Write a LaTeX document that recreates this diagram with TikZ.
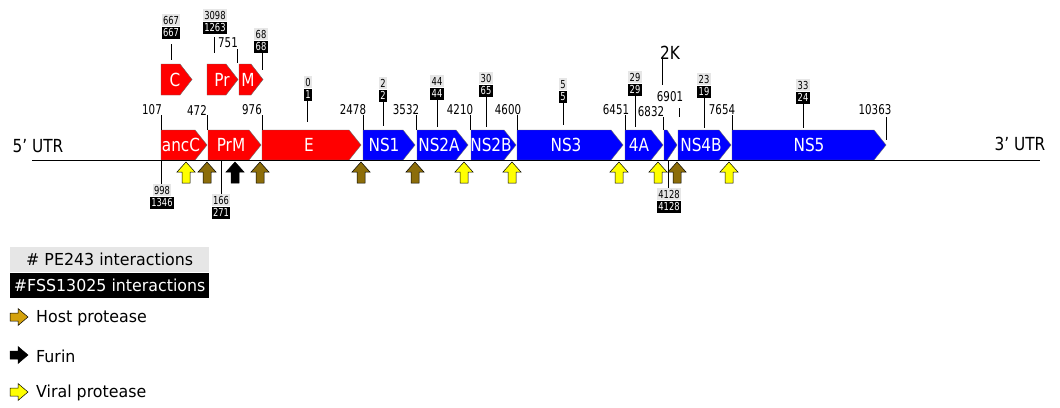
\documentclass[tikz,border=0pt]{standalone}
\usepackage{fontspec}
\setmainfont{DejaVu Sans}[FakeStretch=0.85]
\newfontfamily\keyfam{DejaVu Sans}[FakeStretch=0.96]
\newfontfamily\numfam{DejaVu Sans}[FakeStretch=0.76]
\newcommand\bigfont{\fontsize{18}{20}\selectfont}
\newcommand\posfont{\numfam\fontsize{13.5}{14}\selectfont}
\newcommand\cntfont{\numfam\fontsize{11}{12}\selectfont}
\newcommand\legfont{\keyfam\fontsize{16.5}{18}\selectfont}
\definecolor{segred}{HTML}{FF0000}
\definecolor{segblue}{HTML}{0000FF}
\definecolor{hostbrown}{HTML}{8C6D0A}
\definecolor{hostgold}{HTML}{D4A20C}
\definecolor{viralyellow}{HTML}{FFFF00}
\definecolor{labgray}{HTML}{E6E6E6}
\tikzset{
  segbox/.style={draw=black!60, line width=0.4pt},
  seglabel/.style={text=white, font=\bigfont, inner sep=0pt},
  graylab/.style={fill=labgray, text=black, font=\cntfont, inner xsep=1.5pt, inner ysep=0pt, minimum height=12pt},
  blacklab/.style={fill=black, text=white, font=\cntfont, inner xsep=1.5pt, inner ysep=0pt, minimum height=12.5pt},
  poslab/.style={font=\posfont, inner sep=0pt},
  tick/.style={draw=black, line width=0.8pt},
  cleave/.pic={\path[pic actions, draw=black, line width=0.5pt]
    (0,0) -- (9,10) -- (4,10) -- (4,21) -- (-4,21) -- (-4,10) -- (-9,10) -- cycle;},
  keyarrow/.pic={\path[pic actions, draw=black, line width=0.5pt]
    (0,-4) -- (8,-4) -- (8,-8.5) -- (18,0) -- (8,8.5) -- (8,4) -- (0,4) -- cycle;},
}
% polyprotein segment: name, left x, tip x, top y, bottom y, colour, text, text x
\newcommand\seg[8]{%
  \path[segbox, fill=#6] (#2,#4) -- ({#3-12},#4) -- (#3,{(#4+#5)/2}) -- ({#3-12},#5) -- (#2,#5) -- cycle;
  \node[seglabel] (#1) at (#8,{(#4+#5)/2}) {#7};}
% interaction counts: name, centre x, top y, PE243 count, FSS13025 count
\newcommand\counts[5]{%
  \node[graylab, anchor=north] (#1g) at (#2,#3) {#4};
  \node[blacklab, anchor=north] (#1b) at (#1g.south) {#5};}
% genome position: name, text x, text y, tick x, tick top, tick bottom, text
\newcommand\gpos[7]{%
  \node[poslab] (#1) at (#2,#3) {#7};
  \coordinate (#1t) at (#4,#5);
  \draw[tick] (#1t) -- (#4,#6);}
\begin{document}
\begin{tikzpicture}[x=1pt, y=-1pt]
\useasboundingbox (0,0) rectangle (1060,407);

% mature protein cleavage products
\seg{C}{161}{192}{64}{95}{segred}{C}{175}
\seg{Pr}{207}{238}{64}{95}{segred}{Pr}{222}
\seg{M}{239}{263}{64}{95}{segred}{M}{248}

% polyprotein
\seg{ancC}{161}{207}{130}{160}{segred}{ancC}{181}
\seg{PrM}{208}{261}{130}{160}{segred}{PrM}{231}
\seg{E}{262}{361}{130}{160}{segred}{E}{309}
\seg{NS1}{363}{415}{130}{160}{segblue}{NS1}{384}
\seg{NS2A}{417}{468}{130}{160}{segblue}{NS2A}{439}
\seg{NS2B}{471}{516}{130}{160}{segblue}{NS2B}{491}
\seg{NS3}{517}{623}{130}{160}{segblue}{NS3}{566}
\seg{NS4A}{625}{663}{130}{160}{segblue}{4A}{639}
\path[segbox, fill=segblue] (664,130) -- (667,130) -- (677,145) -- (667,160) -- (664,160) -- cycle;
\coordinate (twoK) at (670,130);
\seg{NS4B}{678}{731}{130}{160}{segblue}{NS4B}{701}
\seg{NS5}{732}{886}{130}{160}{segblue}{NS5}{809}

% genome line
\node[font=\bigfont, inner sep=0pt] (utr5) at (38,146) {5' UTR};
\node[font=\bigfont, inner sep=0pt] (utr3) at (1020,144) {3' UTR};
\coordinate (lineL) at (32,160);
\coordinate (lineR) at (1040,160);
\draw[line width=0.8pt] (lineL) -- (lineR);

% genome positions
\gpos{p107}{152}{110}{161}{115}{130}{107}
\gpos{p472}{197}{110}{207}{115}{130}{472}
\gpos{p976}{252}{110}{262}{115}{130}{976}
\gpos{p2478}{353}{110}{363}{115}{130}{2478}
\gpos{p3532}{406}{110}{416}{115}{130}{3532}
\gpos{p4210}{460}{110}{470}{115}{130}{4210}
\gpos{p4600}{508}{110}{517}{115}{130}{4600}
\gpos{p6451}{616}{110}{625}{115}{130}{6451}
\gpos{p6832}{651}{112}{663}{117}{130}{6832}
\gpos{p6901}{670}{97}{679}{108}{117}{6901}
\gpos{p7654}{722}{110}{732}{115}{130}{7654}
\gpos{p10363}{875}{110}{886}{117}{140}{10363}
\gpos{p751}{228}{43}{237}{49}{63}{751}
\node[font=\bigfont, inner sep=0pt] (lab2K) at (670,53) {2K};
\draw[tick] (lab2K.south -| 662,0) ++(0,-1) -- (662,85);

% interaction counts above
\counts{cC}{171}{14}{667}{667}
\draw[tick] (cCb.south) ++(0,5) -- (171,60);
\counts{cPr}{215}{9}{3098}{1263}
\draw[tick] (cPrb.south -| 214,0) ++(0,3) -- (214,53);
\counts{cM}{261}{28}{68}{68}
\draw[tick] (cMb.south -| 262,0) -- (262,70);
\counts{cE}{308}{76}{0}{1}
\draw[tick] (cEb.south -| 307,0) -- (307,122);
\counts{cNS1}{383}{77}{2}{2}
\draw[tick] (cNS1b.south) -- (383,126);
\counts{cNS2A}{437}{75}{44}{44}
\draw[tick] (cNS2Ab.south) -- (437,127);
\counts{cNS2B}{486}{72}{30}{65}
\draw[tick] (cNS2Bb.south) -- (486,127);
\counts{cNS3}{563}{78}{5}{5}
\draw[tick] (cNS3b.south) -- (563,125);
\counts{cNS4A}{635}{71}{29}{29}
\draw[tick] (cNS4Ab.south) -- (635,127);
\counts{cNS4B}{704}{73}{23}{19}
\draw[tick] (cNS4Bb.south) -- (704,128);
\counts{cNS5}{803}{79}{33}{24}
\draw[tick] (cNS5b.south) -- (803,128);

% interaction counts below
\counts{cancC}{162}{184}{998}{1346}
\draw[tick] (161,160) -- (cancCg.north -| 161,0);
\counts{cPrM}{221}{194}{166}{271}
\draw[tick] (221,160) -- (cPrMg.north);
\counts{c2K}{669}{188}{4128}{4128}
\draw[tick] (668,160) -- (c2Kg.north -| 668,0);

% cleavage sites
\pic[fill=viralyellow] at (186,162) {cleave};
\pic[fill=hostbrown] at (207,162) {cleave};
\pic[fill=black] at (235,162) {cleave};
\pic[fill=hostbrown] at (260,162) {cleave};
\pic[fill=hostbrown] at (361,162) {cleave};
\pic[fill=hostbrown] at (415,162) {cleave};
\pic[fill=viralyellow] at (464,162) {cleave};
\pic[fill=viralyellow] at (512,162) {cleave};
\pic[fill=viralyellow] at (619,162) {cleave};
\pic[fill=viralyellow] at (658,162) {cleave};
\pic[fill=hostbrown] at (677,162) {cleave};
\pic[fill=viralyellow] at (729,162) {cleave};

% legend
\node[fill=labgray, font=\legfont, minimum width=199pt, minimum height=25pt, inner sep=0pt, anchor=north west] (keyPE) at (10,247) {\# PE243 interactions};
\node[fill=black, text=white, font=\legfont, minimum width=199pt, minimum height=25pt, inner sep=0pt, anchor=north west] (keyFSS) at (keyPE.south west) {\#FSS13025 interactions};
\pic[fill=hostgold] at (10,317) {keyarrow};
\node[font=\legfont, anchor=west, inner sep=0pt] (keyHost) at (36,318) {Host protease};
\pic[fill=black] at (10,355) {keyarrow};
\node[font=\legfont, anchor=west, inner sep=0pt] (keyFurin) at (36,356) {Furin};
\pic[fill=viralyellow] at (10,392) {keyarrow};
\node[font=\legfont, anchor=west, inner sep=0pt] (keyViral) at (36,393) {Viral protease};
\end{tikzpicture}
\end{document}
